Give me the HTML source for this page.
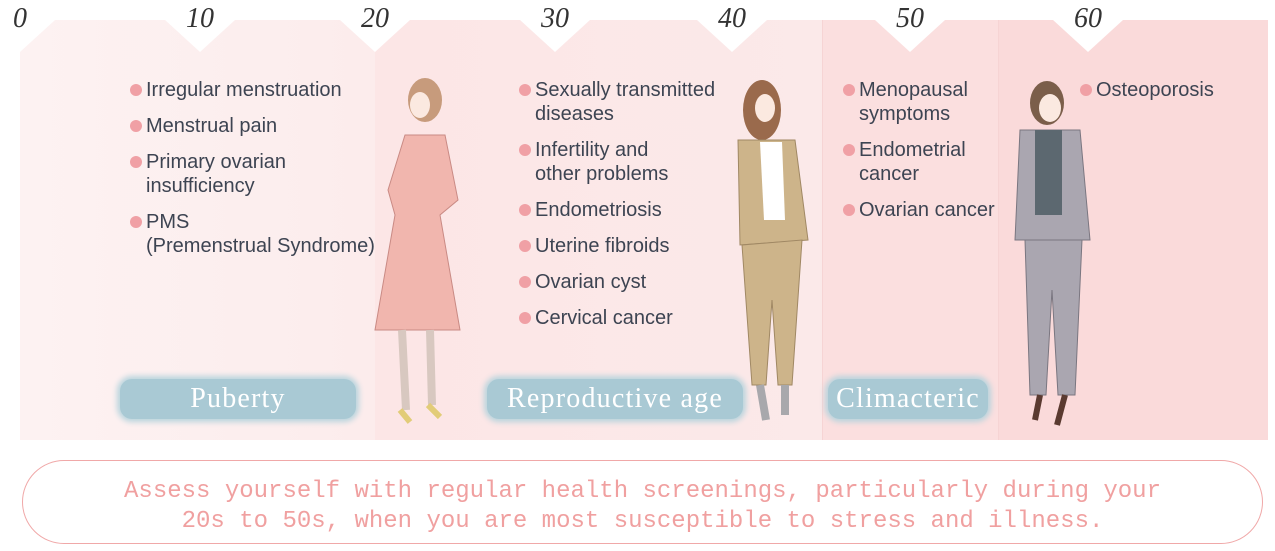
<!DOCTYPE html>
<html><head><meta charset="utf-8"><style>
body{margin:0;width:1275px;height:551px;background:#fff;position:relative;overflow:hidden;font-family:"Liberation Sans",sans-serif}
.sec{position:absolute;top:20px;height:420px}
.num{position:absolute;top:3px;font:italic 28px "Liberation Serif",serif;color:#333;width:60px;text-align:center}
ul{position:absolute;margin:0;padding:0;list-style:none;color:#3d4452;font-size:20px;letter-spacing:0px;line-height:24px}
li{position:relative;padding-left:16px;margin-bottom:12px}
li:before{content:"";position:absolute;left:0;top:6px;width:12px;height:12px;border-radius:50%;background:#f0a0a5}
.pill{position:absolute;top:379px;height:40px;background:#a9c9d4;border-radius:12px;box-shadow:0 0 6px 3px #b8d4dd;color:#fff;font:28px "Liberation Serif",serif;letter-spacing:1.2px;text-align:center;line-height:40px}
.msg{position:absolute;left:22px;top:460px;width:1241px;height:84px;border:1.5px solid #f0a8a8;border-radius:43px;color:#f0a0a0;font:24px "Liberation Mono",monospace;text-align:center;line-height:30px;padding-top:16px;box-sizing:border-box}
</style></head><body>
<div class="sec" style="left:20px;width:355px;background:linear-gradient(90deg,#fdf2f2,#fcecec)"></div>
<div class="sec" style="left:375px;width:447px;background:linear-gradient(90deg,#fce6e6,#fbe9e9)"></div>
<div class="sec" style="left:822px;width:176px;background:#fbdfdf;border-left:1px solid #f6d4d4"></div>
<div class="sec" style="left:998px;width:269px;background:#fadada;border-left:1px solid #f6d4d4"></div>
<svg width="1275" height="60" style="position:absolute;left:0;top:0">
<g fill="#fff">
<path d="M-15 20 Q-5 -2 20 -2 Q45 -2 55 20 L20 52 Z"/>
<path d="M165 20 Q175 -2 200 -2 Q225 -2 235 20 L200 52 Z"/>
<path d="M340 20 Q350 -2 375 -2 Q400 -2 410 20 L375 52 Z"/>
<path d="M520 20 Q530 -2 555 -2 Q580 -2 590 20 L555 52 Z"/>
<path d="M697 20 Q707 -2 732 -2 Q757 -2 767 20 L732 52 Z"/>
<path d="M875 20 Q885 -2 910 -2 Q935 -2 945 20 L910 52 Z"/>
<path d="M1053 20 Q1063 -2 1088 -2 Q1113 -2 1123 20 L1088 52 Z"/>
</g></svg>
<div class="num" style="left:-10px">0</div>
<div class="num" style="left:170px">10</div>
<div class="num" style="left:345px">20</div>
<div class="num" style="left:525px">30</div>
<div class="num" style="left:702px">40</div>
<div class="num" style="left:880px">50</div>
<div class="num" style="left:1058px">60</div>
<ul style="left:130px;top:78px">
<li>Irregular menstruation</li><li>Menstrual pain</li><li>Primary ovarian<br>insufficiency</li><li>PMS<br>(Premenstrual Syndrome)</li></ul>
<ul style="left:519px;top:78px">
<li>Sexually transmitted<br>diseases</li><li>Infertility and<br>other problems</li><li>Endometriosis</li><li>Uterine fibroids</li><li>Ovarian cyst</li><li>Cervical cancer</li></ul>
<ul style="left:843px;top:78px">
<li>Menopausal<br>symptoms</li><li>Endometrial<br>cancer</li><li>Ovarian cancer</li></ul>
<ul style="left:1080px;top:78px"><li>Osteoporosis</li></ul>
<svg width="1275" height="551" style="position:absolute;left:0;top:0">
<ellipse cx="425" cy="100" rx="17" ry="22" fill="#c79b7c"/>
<ellipse cx="420" cy="105" rx="10" ry="13" fill="#fbe9e0"/>
<path d="M405 135 L445 135 L458 200 L440 215 L460 330 L375 330 L395 215 L388 190 Z" fill="#f1b6ae" stroke="#c98a84" stroke-width="1"/>
<path d="M402 330 L406 410 M430 330 L432 405" stroke="#d8c8c0" stroke-width="8"/>
<path d="M400 410 l10 12 M428 405 l12 12" stroke="#e2cc78" stroke-width="6"/>
<ellipse cx="762" cy="110" rx="19" ry="30" fill="#9a6a4c"/>
<ellipse cx="765" cy="108" rx="10" ry="14" fill="#fbe9e0"/>
<path d="M738 140 L795 140 L808 240 L740 245 Z" fill="#cdb48a" stroke="#a08864"/>
<path d="M760 142 L782 142 L785 220 L764 220 Z" fill="#fff"/>
<path d="M742 245 L802 240 L792 385 L778 385 L772 300 L766 385 L752 385 Z" fill="#cdb48a" stroke="#a08864"/>
<path d="M760 385 l6 35 M785 385 l0 30" stroke="#a8a8ac" stroke-width="8"/>
<ellipse cx="1047" cy="103" rx="17" ry="22" fill="#7b5e4a"/>
<ellipse cx="1050" cy="108" rx="11" ry="14" fill="#fbe9e0"/>
<path d="M1020 130 L1080 130 L1090 240 L1015 240 Z" fill="#aaa6b0" stroke="#7a7680"/>
<path d="M1035 130 L1062 130 L1062 215 L1035 215 Z" fill="#5c6870"/>
<path d="M1025 240 L1082 240 L1075 395 L1058 395 L1052 290 L1046 395 L1030 395 Z" fill="#aaa6b0" stroke="#7a7680"/>
<path d="M1040 395 l-5 25 M1065 395 l-8 30" stroke="#5a3a30" stroke-width="6"/>
</svg>
<div class="pill" style="left:120px;width:236px">Puberty</div>
<div class="pill" style="left:487px;width:256px">Reproductive age</div>
<div class="pill" style="left:828px;width:160px">Climacteric</div>
<div class="msg">Assess yourself with regular health screenings, particularly during your<br>20s to 50s, when you are most susceptible to stress and illness.</div>
</body></html>
